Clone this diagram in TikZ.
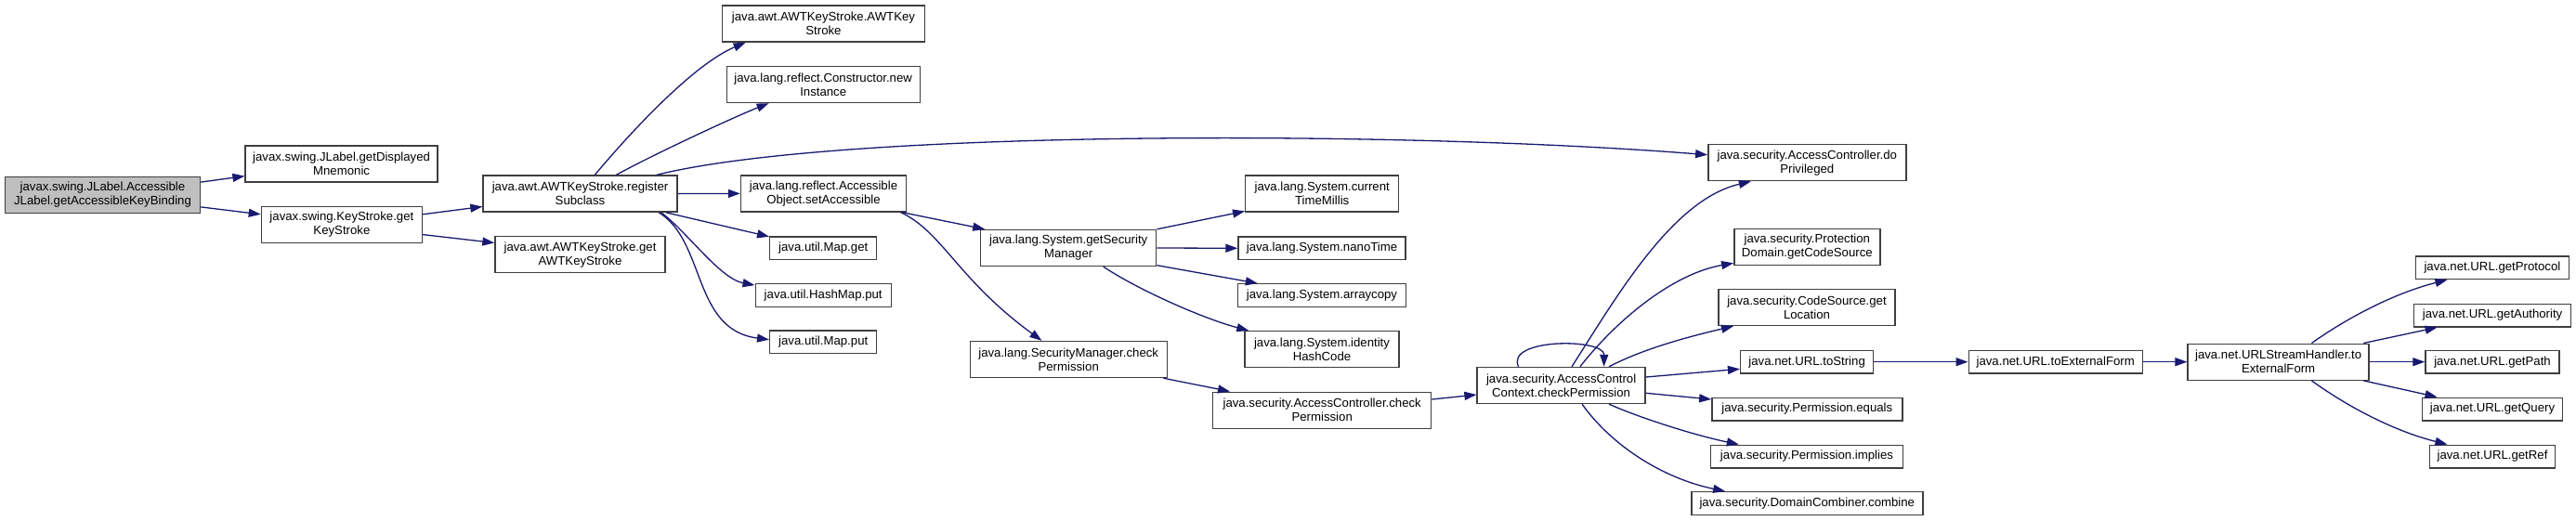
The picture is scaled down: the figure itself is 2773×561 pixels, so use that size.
\documentclass[tikz,border=0pt]{standalone}
\usepackage{fontspec}
\setmainfont{Liberation Sans}
\usetikzlibrary{arrows.meta}
\definecolor{edgec}{HTML}{191970}
\definecolor{bordc}{HTML}{3F3F3F}
\definecolor{rootc}{HTML}{BFBFBF}
\begin{document}
\begin{tikzpicture}[x=1pt,y=-1pt,
  fn/.style={draw=bordc, line width=1.4pt, fill=white, inner sep=0pt, align=center,
    font=\fontsize{13.2}{15}\selectfont, minimum height=39pt},
  fn1/.style={fn, minimum height=24.6pt},
  conn/.style={draw=edgec, line width=1.3pt, -{Triangle[length=13pt,width=9pt]}}]
\fill[white] (0,0) rectangle (2773,561);
\useasboundingbox (0,0) rectangle (2773,561);

\node[fn, fill=rootc, minimum width=210pt] (root) at (110.5,209.9) {javax.swing.JLabel.Accessible\\JLabel.getAccessibleKeyBinding};
\node[fn, minimum width=207pt] (mnem) at (367.6,176.6) {javax.swing.JLabel.getDisplayed\\Mnemonic};
\node[fn, minimum width=173pt] (gks) at (367.9,242) {javax.swing.KeyStroke.get\\KeyStroke};
\node[fn, minimum width=209pt] (reg) at (624.5,208.6) {java.awt.AWTKeyStroke.register\\Subclass};
\node[fn, minimum width=183pt] (gawt) at (624.5,274.3) {java.awt.AWTKeyStroke.get\\AWTKeyStroke};
\node[fn, minimum width=218pt] (awtks) at (886.5,25.6) {java.awt.AWTKeyStroke.AWTKey\\Stroke};
\node[fn, minimum width=208pt] (ctor) at (886.2,91) {java.lang.reflect.Constructor.new\\Instance};
\node[fn, minimum width=178pt] (setacc) at (886.5,208.4) {java.lang.reflect.Accessible\\Object.setAccessible};
\node[fn1, minimum width=115pt] (mapget) at (886.2,267.3) {java.util.Map.get};
\node[fn1, minimum width=146pt] (hmput) at (886.2,318.1) {java.util.HashMap.put};
\node[fn1, minimum width=115pt] (mapput) at (886.2,368.4) {java.util.Map.put};
\node[fn, minimum width=189pt] (gsm) at (1150.2,267) {java.lang.System.getSecurity\\Manager};
\node[fn, minimum width=212pt] (smcp) at (1150.2,387) {java.lang.SecurityManager.check\\Permission};
\node[fn, minimum width=165pt] (ctm) at (1423.2,208.6) {java.lang.System.current\\TimeMillis};
\node[fn1, minimum width=180pt] (nano) at (1423,267.3) {java.lang.System.nanoTime};
\node[fn1, minimum width=181pt] (acopy) at (1423,318.1) {java.lang.System.arraycopy};
\node[fn, minimum width=166pt] (ihc) at (1423,376.2) {java.lang.System.identity\\HashCode};
\node[fn, minimum width=235pt] (accp) at (1423.2,441.7) {java.security.AccessController.check\\Permission};
\node[fn, minimum width=181pt] (acc) at (1680.6,415) {java.security.AccessControl\\Context.checkPermission};
\node[fn, minimum width=213pt] (dopriv) at (1945.3,175.2) {java.security.AccessController.do\\Privileged};
\node[fn, minimum width=157pt] (pdgcs) at (1945.3,265.8) {java.security.Protection\\Domain.getCodeSource};
\node[fn, minimum width=190pt] (csgl) at (1945,331) {java.security.CodeSource.get\\Location};
\node[fn1, minimum width=143pt] (urlts) at (1945.1,389.7) {java.net.URL.toString};
\node[fn1, minimum width=205pt] (peq) at (1945.3,440.5) {java.security.Permission.equals};
\node[fn1, minimum width=207pt] (pimp) at (1945,491.5) {java.security.Permission.implies};
\node[fn1, minimum width=249pt] (dcc) at (1945.3,542) {java.security.DomainCombiner.combine};
\node[fn1, minimum width=187pt] (urltef) at (2212.7,389.7) {java.net.URL.toExternalForm};
\node[fn, minimum width=195pt] (ush) at (2452.6,389.7) {java.net.URLStreamHandler.to\\ExternalForm};
\node[fn1, minimum width=165pt] (gprot) at (2682.9,288.3) {java.net.URL.getProtocol};
\node[fn1, minimum width=169pt] (gauth) at (2683.1,339.5) {java.net.URL.getAuthority};
\node[fn1, minimum width=144pt] (gpath) at (2683,389.7) {java.net.URL.getPath};
\node[fn1, minimum width=151pt] (gquery) at (2683,440.5) {java.net.URL.getQuery};
\node[fn1, minimum width=135pt] (gref) at (2683,491.5) {java.net.URL.getRef};

\draw[conn] ([yshift=13.8pt]root.east) -- ([yshift=-13pt]mnem.west);
\draw[conn] ([yshift=-13pt]root.east) -- ([yshift=11.2pt]gks.west);
\draw[conn] ([yshift=11.2pt]gks.east) -- ([yshift=-13.9pt]reg.west);
\draw[conn] ([yshift=-10.6pt]gks.east) -- ([yshift=12.8pt]gawt.west);
\draw[conn] ([xshift=15.8pt]reg.north) .. controls (679,142) and (747,69) .. ([xshift=-83.9pt]awtks.south);
\draw[conn] ([xshift=38.8pt]reg.north) .. controls (700,168) and (790,126) .. ([xshift=-58.6pt]ctor.south);
\draw[conn] ([xshift=82.1pt]reg.north) .. controls (900,140) and (1500,140) .. ([yshift=8.5pt]dopriv.west);
\draw[conn] (reg.east) -- (setacc.west);
\draw[conn] ([xshift=92.3pt]reg.south) -- ([yshift=12.5pt]mapget.west);
\draw[conn] ([xshift=87.2pt]reg.south) .. controls (740,250) and (775,300) .. ([yshift=11pt]hmput.west);
\draw[conn] ([xshift=84.7pt]reg.south) .. controls (760,260) and (745,355) .. ([yshift=2.7pt]mapput.west);
\draw[conn] ([xshift=84.4pt]setacc.south) -- ([xshift=-90pt]gsm.north);
\draw[conn] ([xshift=83pt]setacc.south) .. controls (1015,250) and (1030,300) .. ([xshift=-28.8pt]smcp.north);
\draw[conn] (gsm.north east) -- ([yshift=1.4pt]ctm.south west);
\draw[conn] (gsm.east) -- (nano.west);
\draw[conn] ([yshift=1.5pt]gsm.south east) -- ([xshift=22pt]acopy.north west);
\draw[conn] ([xshift=37.6pt]gsm.south) .. controls (1225,312) and (1295,343) .. ([xshift=5pt]ihc.north west);
\draw[conn] ([xshift=-4.6pt]smcp.south east) -- ([xshift=19pt]accp.north west);
\draw[conn] ([yshift=11.7pt]accp.east) -- ([yshift=-10pt]acc.west);
\draw[conn] ([xshift=-46pt]acc.north) .. controls (1620,364) and (1727,364) .. ([xshift=46pt]acc.north);
\draw[conn] ([xshift=11.4pt]acc.north) .. controls (1740,320) and (1800,215) .. ([xshift=-60.5pt]dopriv.south);
\draw[conn] ([xshift=20.3pt]acc.north) .. controls (1740,345) and (1800,295) .. ([yshift=-17.5pt]pdgcs.west);
\draw[conn] ([xshift=51.5pt]acc.north) .. controls (1770,375) and (1820,362) .. ([xshift=-79pt]csgl.south);
\draw[conn] ([yshift=9pt]acc.east) -- ([yshift=-7.6pt]urlts.west);
\draw[conn] ([yshift=-8.3pt]acc.east) -- ([yshift=10.5pt]peq.west);
\draw[conn] ([xshift=51.5pt]acc.south) .. controls (1770,452) and (1830,470) .. ([xshift=-73.2pt]pimp.north);
\draw[conn] ([xshift=22.5pt]acc.south) .. controls (1735,480) and (1790,515) .. ([xshift=-88.2pt]dcc.north);
\draw[conn] (urlts.east) -- (urltef.west);
\draw[conn] (urltef.east) -- (ush.west);
\draw[conn] ([xshift=35.8pt]ush.north) .. controls (2530,340) and (2580,315) .. ([xshift=-48.5pt]gprot.south);
\draw[conn] ([xshift=-6.5pt]ush.north east) -- ([xshift=25.7pt]gauth.south west);
\draw[conn] (ush.east) -- (gpath.west);
\draw[conn] ([xshift=-6.5pt]ush.south east) -- ([xshift=16.7pt]gquery.north west);
\draw[conn] ([xshift=35.8pt]ush.south) .. controls (2530,440) and (2580,465) .. ([xshift=-48.6pt]gref.north);
\end{tikzpicture}
\end{document}
